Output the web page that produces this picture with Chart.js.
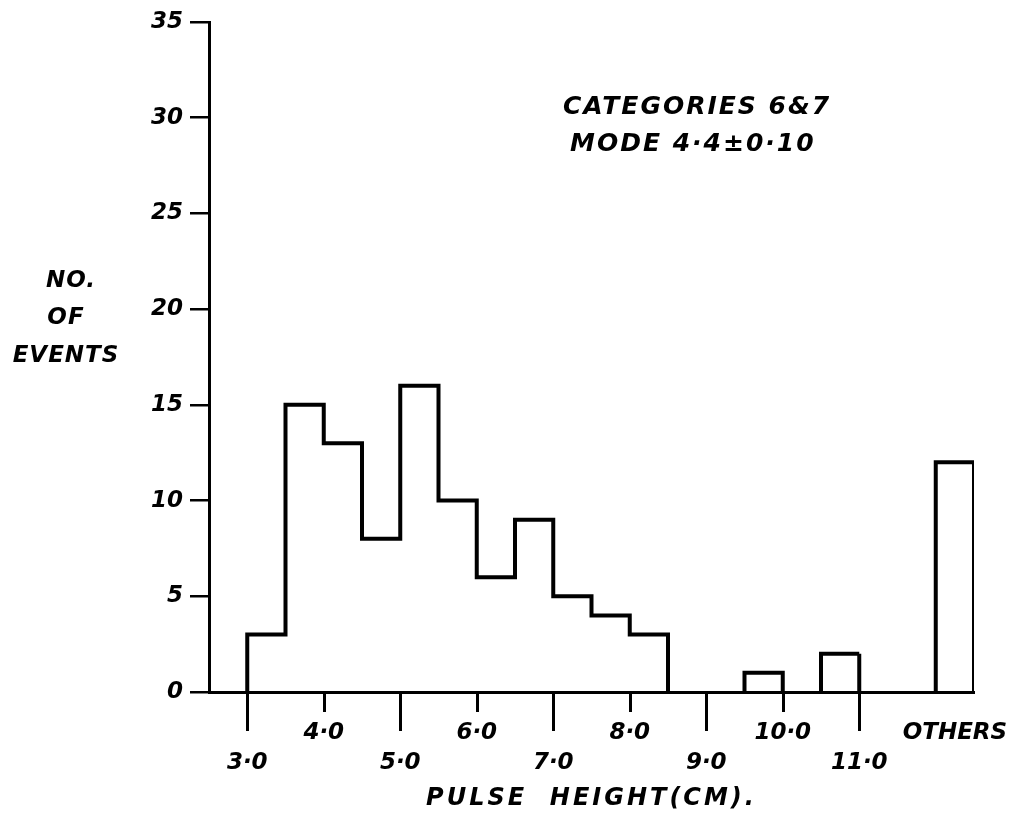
<!DOCTYPE html>
<html>
<head>
<meta charset="utf-8">
<script src="https://cdn.jsdelivr.net/npm/chart.js@4.4.0/dist/chart.umd.min.js"></script>
<style>
  html, body { margin: 0; padding: 0; background: #fff; }
  #wrap { width: 1019px; height: 817px; position: relative; }
</style>
</head>
<body>
<div id="wrap"><canvas id="c"></canvas></div>
<script>
// Pulse-height histogram for categories 6 & 7 (bins of 0.5 cm)
const binStarts = [3.0, 3.5, 4.0, 4.5, 5.0, 5.5, 6.0, 6.5, 7.0, 7.5, 8.0, 8.5, 9.0, 9.5, 10.0, 10.5, 11.0, 11.5];
const binCounts = [3, 15, 13, 8, 16, 10, 6, 9, 5, 4, 3, 0, 0, 1, 0, 2, 0, 0];
const binWidth = 0.5;
const othersStart = 12.0;
const othersCount = 12;

const xTickValues = [3, 4, 5, 6, 7, 8, 9, 10, 11, 12.25];
const xTickLabels = ['3·0', '4·0', '5·0', '6·0', '7·0', '8·0', '9·0', '10·0', '11·0', 'OTHERS'];
const yTickValues = [0, 5, 10, 15, 20, 25, 30, 35];
const yTickLabels = ['0', '5', '10', '15', '20', '25', '30', '35'];

const yTitleLines = ['NO.', 'OF', 'EVENTS'];
const noteLines = ['CATEGORIES 6&7', 'MODE 4·4±0·10'];
const xTitle = 'PULSE  HEIGHT(CM).';

// the bin ending here was only partly drawn (dashed right edge)
const dashedEdgeX = 11.0;

const INK = '#000';
const FONT = 'DejaVu Sans';

// Group neighbouring non-empty bins into step outlines
const bins = binStarts.map((s, i) => ({ start: s, end: s + binWidth, count: binCounts[i] }));
bins.push({ start: othersStart, end: othersStart + binWidth, count: othersCount });
const runs = [];
let cur = null;
bins.forEach(b => {
  if (b.count > 0) {
    if (cur && Math.abs(cur.end - b.start) < 1e-9) { cur.bins.push(b); cur.end = b.end; }
    else { cur = { bins: [b], end: b.end }; runs.push(cur); }
  } else {
    cur = null;
  }
});
const outlines = runs.map(run => {
  const pts = [{ x: run.bins[0].start, y: 0 }];
  run.bins.forEach(b => { pts.push({ x: b.start, y: b.count }); pts.push({ x: b.end, y: b.count }); });
  pts.push({ x: run.end, y: 0 });
  return pts;
});

const datasets = outlines.map(pts => ({
  type: 'line',
  data: pts,
  borderColor: INK,
  borderWidth: 4,
  borderJoinStyle: 'miter',
  borderCapStyle: 'butt',
  pointRadius: 0,
  tension: 0,
  fill: false,
  segment: {
    borderDash: c => (Math.abs(c.p0.parsed.x - dashedEdgeX) < 1e-9 && Math.abs(c.p1.parsed.x - dashedEdgeX) < 1e-9) ? [8, 6] : undefined
  }
}));

// Long marks under odd values, short under even ones; none under OTHERS
const xMarksPlugin = {
  id: 'xMarks',
  afterDatasetsDraw(chart) {
    const { ctx, chartArea } = chart;
    const xs = chart.scales.x;
    ctx.save();
    ctx.strokeStyle = INK;
    ctx.lineWidth = 3;
    xTickValues.forEach(v => {
      if (!Number.isInteger(v)) return;
      const px = Math.round(xs.getPixelForValue(v)) + 0.5;
      const len = (v % 2 === 1) ? 39 : 20;
      ctx.beginPath();
      ctx.moveTo(px, chartArea.bottom);
      ctx.lineTo(px, chartArea.bottom + len);
      ctx.stroke();
    });
    ctx.restore();
  }
};

const textPlugin = {
  id: 'texts',
  afterDraw(chart) {
    const { ctx, chartArea } = chart;
    ctx.save();
    ctx.fillStyle = INK;
    ctx.textBaseline = 'middle';

    // horizontal y-axis caption
    ctx.font = `italic bold 23px "${FONT}"`;
    ctx.letterSpacing = '1px';
    ctx.textAlign = 'center';
    const yTitlePos = [[71, 281], [66, 318], [66, 356]];
    yTitleLines.forEach((t, i) => ctx.fillText(t, yTitlePos[i][0], yTitlePos[i][1]));

    // note in the upper right
    ctx.font = `italic bold 25px "${FONT}"`;
    ctx.letterSpacing = '2px';
    ctx.textAlign = 'left';
    ctx.fillText(noteLines[0], 563, 107);
    ctx.fillText(noteLines[1], 570, 144);

    // x-axis caption
    ctx.font = `italic bold 24px "${FONT}"`;
    ctx.letterSpacing = '3px';
    ctx.textAlign = 'center';
    ctx.fillText(xTitle, (chartArea.left + chartArea.right) / 2, 799);
    ctx.restore();
  }
};

new Chart(document.getElementById('c'), {
  type: 'line',
  data: { datasets },
  options: {
    responsive: true,
    maintainAspectRatio: false,
    animation: false,
    layout: { padding: { left: 0, right: 45, top: 22, bottom: 0 } },
    plugins: { legend: { display: false }, tooltip: { enabled: false } },
    scales: {
      x: {
        type: 'linear',
        min: 2.5,
        max: 12.5,
        afterBuildTicks: s => { s.ticks = xTickValues.map(v => ({ value: v })); },
        afterFit: s => { s.height = 125; s.paddingLeft = 0; s.paddingRight = 0; },
        grid: { display: false, drawTicks: false, tickLength: 0 },
        border: { display: true, color: INK, width: 3 },
        ticks: {
          autoSkip: false,
          maxRotation: 0,
          minRotation: 0,
          padding: 26,
          color: INK,
          font: { family: FONT, style: 'italic', weight: 'bold', size: 23, lineHeight: 1.3 },
          callback: (v, i) => (i % 2 === 0 && i < xTickLabels.length - 1) ? ['', xTickLabels[i]] : xTickLabels[i]
        }
      },
      y: {
        type: 'linear',
        min: 0,
        max: 35,
        afterBuildTicks: s => { s.ticks = yTickValues.map(v => ({ value: v })); },
        afterFit: s => { s.width = 209; s.paddingTop = 0; s.paddingBottom = 0; },
        grid: { display: true, drawOnChartArea: false, drawTicks: true, tickLength: 19, color: INK, tickColor: INK, lineWidth: 2.5 },
        border: { display: true, color: INK, width: 3 },
        ticks: {
          padding: 7,
          color: INK,
          font: { family: FONT, style: 'italic', weight: 'bold', size: 23 },
          callback: (v, i) => yTickLabels[i]
        }
      }
    }
  },
  plugins: [xMarksPlugin, textPlugin]
});
</script>
</body>
</html>
